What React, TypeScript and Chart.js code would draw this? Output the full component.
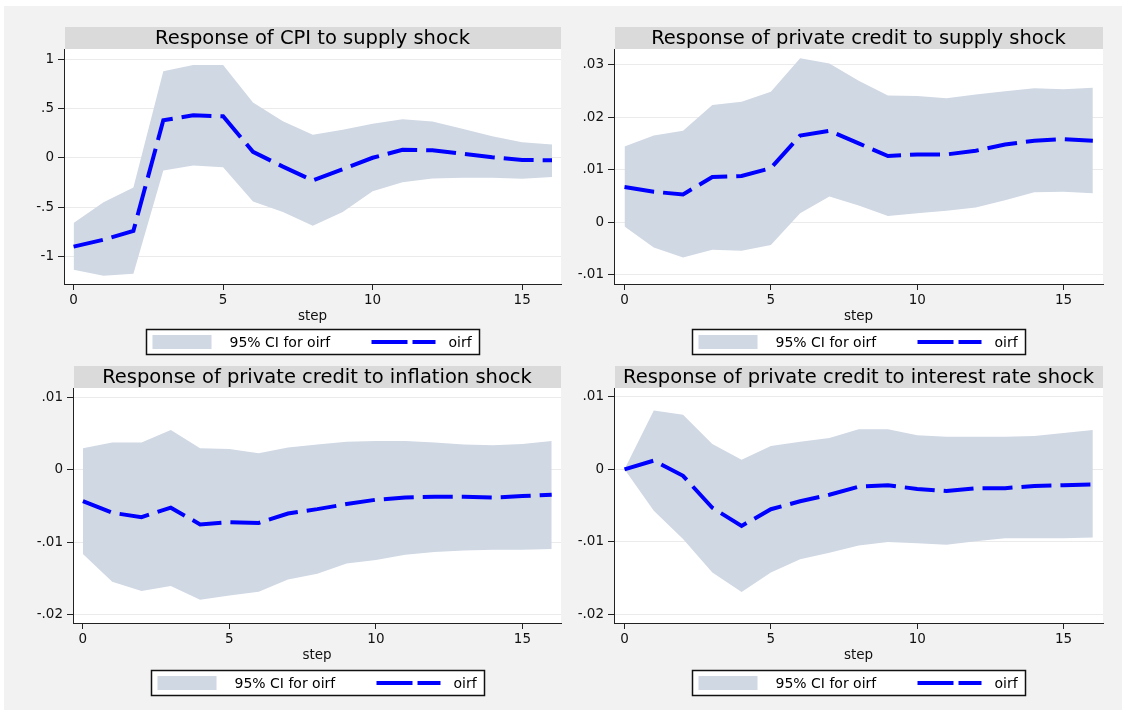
import React, { useEffect, useRef } from "react";
import { Chart, registerables } from "chart.js";

Chart.register(...registerables);

// ---------------- data ----------------
const steps = [0, 1, 2, 3, 4, 5, 6, 7, 8, 9, 10, 11, 12, 13, 14, 15, 16];

const cpiSupplyOirf = [-0.9, -0.83, -0.74, 0.38, 0.43, 0.42, 0.06, -0.09, -0.23, -0.115, 0.0, 0.08, 0.075, 0.04, 0.005, -0.022, -0.025];
const cpiSupplyUpper = [-0.66, -0.45, -0.3, 0.875, 0.94, 0.94, 0.56, 0.37, 0.233, 0.284, 0.344, 0.39, 0.368, 0.294, 0.219, 0.158, 0.135];
const cpiSupplyLower = [-1.134, -1.195, -1.175, -0.129, -0.078, -0.095, -0.443, -0.55, -0.688, -0.55, -0.338, -0.247, -0.21, -0.203, -0.203, -0.213, -0.196];

const creditSupplyOirf = [0.0067, 0.0058, 0.0053, 0.0086, 0.0088, 0.0103, 0.0165, 0.0174, 0.015, 0.0126, 0.0129, 0.0129, 0.0136, 0.0148, 0.0155, 0.0158, 0.0155];
const creditSupplyUpper = [0.0144, 0.0165, 0.0174, 0.0223, 0.0229, 0.0248, 0.0312, 0.0302, 0.0269, 0.0241, 0.024, 0.0236, 0.0243, 0.0249, 0.0255, 0.0253, 0.0256];
const creditSupplyLower = [-0.0008, -0.0048, -0.0067, -0.0052, -0.0054, -0.0043, 0.0017, 0.0049, 0.0032, 0.0012, 0.0017, 0.0022, 0.0028, 0.0042, 0.0057, 0.0058, 0.0055];

const creditInflOirf = [-0.0043, -0.0059, -0.0065, -0.0052, -0.0075, -0.0072, -0.0073, -0.006, -0.0054, -0.0047, -0.0041, -0.0038, -0.0037, -0.0037, -0.0038, -0.0036, -0.0034];
const creditInflUpper = [0.003, 0.0038, 0.0038, 0.0055, 0.003, 0.0029, 0.0023, 0.0031, 0.0035, 0.0039, 0.004, 0.004, 0.0038, 0.0035, 0.0034, 0.0036, 0.004];
const creditInflLower = [-0.0116, -0.0154, -0.0167, -0.016, -0.0179, -0.0173, -0.0168, -0.0151, -0.0143, -0.0129, -0.0124, -0.0117, -0.0113, -0.0111, -0.011, -0.011, -0.0109];

const creditRateOirf = [0, 0.0012, -0.0009, -0.0053, -0.0078, -0.0055, -0.0044, -0.0035, -0.0024, -0.0022, -0.0027, -0.003, -0.0026, -0.0026, -0.0023, -0.0022, -0.0021];
const creditRateUpper = [0, 0.0081, 0.0075, 0.0035, 0.0013, 0.0032, 0.0038, 0.0043, 0.0055, 0.0055, 0.0047, 0.0045, 0.0045, 0.0045, 0.0046, 0.005, 0.0054];
const creditRateLower = [0, -0.0057, -0.0096, -0.0142, -0.0169, -0.0142, -0.0124, -0.0115, -0.0105, -0.01, -0.0102, -0.0104, -0.0099, -0.0095, -0.0095, -0.0095, -0.0094];

const cpiTickValues = [-1, -0.5, 0, 0.5, 1];
const cpiTickLabels = ["-1", "-.5", "0", ".5", "1"];
const supplyTickValues = [-0.01, 0, 0.01, 0.02, 0.03];
const supplyTickLabels = ["-.01", "0", ".01", ".02", ".03"];
const smallTickValues = [-0.02, -0.01, 0, 0.01];
const smallTickLabels = ["-.02", "-.01", "0", ".01"];
const xTickValues = [0, 5, 10, 15];
const xTickLabels = ["0", "5", "10", "15"];

const panelTitles = [
  "Response of CPI to supply shock",
  "Response of private credit to supply shock",
  "Response of private credit to inflation shock",
  "Response of private credit to interest rate shock",
];
const legendLabels = ["95% CI for oirf", "oirf"];
const xAxisTitle = "step";

// ---------------- layout & style ----------------
const W = 1122;
const H = 710;
const YAXIS_W = 50;
const XAXIS_H = 42;
const FONT = "DejaVu Sans";
const CI_COLOR = "#d0d8e4";
const LINE_COLOR = "#0000ff";
const AXIS_COLOR = "#222222";
const GRID_COLOR = "#ebebeb";
const BAND_COLOR = "#dadada";

const panels = [
  {
    title: panelTitles[0], oirf: cpiSupplyOirf, upper: cpiSupplyUpper, lower: cpiSupplyLower,
    yTicks: cpiTickValues, yLabels: cpiTickLabels,
    area: { left: 64, right: 561, top: 49, bottom: 284 },
    yMin: -1.2784, yMax: 1.1013, xMin: -0.321, xMax: 16.3, legendTop: 329,
  },
  {
    title: panelTitles[1], oirf: creditSupplyOirf, upper: creditSupplyUpper, lower: creditSupplyLower,
    yTicks: supplyTickValues, yLabels: supplyTickLabels,
    area: { left: 614, right: 1103, top: 49, bottom: 284 },
    yMin: -0.01173, yMax: 0.032947, xMin: -0.359, xMax: 16.347, legendTop: 329,
  },
  {
    title: panelTitles[2], oirf: creditInflOirf, upper: creditInflUpper, lower: creditInflLower,
    yTicks: smallTickValues, yLabels: smallTickLabels,
    area: { left: 73, right: 561, top: 388, bottom: 623 },
    yMin: -0.021104, yMax: 0.01131, xMin: -0.338, xMax: 16.317, legendTop: 670,
  },
  {
    title: panelTitles[3], oirf: creditRateOirf, upper: creditRateUpper, lower: creditRateLower,
    yTicks: smallTickValues, yLabels: smallTickLabels,
    area: { left: 614, right: 1103, top: 388, bottom: 623 },
    yMin: -0.021171, yMax: 0.011198, xMin: -0.359, xMax: 16.347, legendTop: 670,
  },
];

const decorPlugin = {
  id: "decor",
  beforeDraw(chart: any, _args: any, opts: any) {
    const { ctx, chartArea: a } = chart;
    ctx.save();
    ctx.fillStyle = "#ffffff";
    ctx.fillRect(a.left, a.top, a.right - a.left, a.bottom - a.top);
    ctx.fillStyle = BAND_COLOR;
    ctx.fillRect(a.left + 1, a.top - 22, a.right - a.left - 1, 22);
    ctx.fillStyle = "#000000";
    ctx.font = `19.5px "${FONT}"`;
    ctx.textAlign = "center";
    ctx.textBaseline = "alphabetic";
    ctx.fillText(opts.title, (a.left + a.right) / 2, a.top - 5);
    ctx.restore();
  },
  afterDraw(chart: any, _args: any, opts: any) {
    const { ctx, chartArea: a } = chart;
    const bw = 333;
    const bh = 25;
    const lx = Math.round((a.left + a.right) / 2 - bw / 2) + 0.5;
    const ty = opts.legendTop + 0.5;
    const mid = ty + bh / 2;
    ctx.save();
    ctx.fillStyle = "#ffffff";
    ctx.fillRect(lx, ty, bw, bh);
    ctx.lineWidth = 1.5;
    ctx.strokeStyle = "#111111";
    ctx.strokeRect(lx, ty, bw, bh);
    ctx.fillStyle = CI_COLOR;
    ctx.fillRect(lx + 6, mid - 7, 59, 14);
    ctx.fillStyle = "#000000";
    ctx.font = `14px "${FONT}"`;
    ctx.textAlign = "left";
    ctx.textBaseline = "alphabetic";
    ctx.fillText(opts.labels[0], lx + 83, mid + 5);
    ctx.fillText(opts.labels[1], lx + 302, mid + 5);
    ctx.beginPath();
    ctx.setLineDash([36, 5]);
    ctx.lineWidth = 4;
    ctx.strokeStyle = LINE_COLOR;
    ctx.moveTo(lx + 225, mid);
    ctx.lineTo(lx + 289, mid);
    ctx.stroke();
    ctx.restore();
  },
};

function buildConfig(p: any): any {
  const pts = (arr: number[]) => steps.map((s, i) => ({ x: s, y: arr[i] }));
  const tickFont = { family: FONT, size: 13.5 };
  return {
    type: "line",
    data: {
      datasets: [
        {
          label: legendLabels[1], data: pts(p.oirf), borderColor: LINE_COLOR, borderWidth: 4,
          borderDash: [30, 9], borderCapStyle: "butt", borderJoinStyle: "miter",
          pointRadius: 0, fill: false, tension: 0,
        },
        {
          label: "upper", data: pts(p.upper), borderColor: "rgba(0,0,0,0)", borderWidth: 0,
          pointRadius: 0, fill: "+1", backgroundColor: CI_COLOR, tension: 0,
        },
        {
          label: "lower", data: pts(p.lower), borderColor: "rgba(0,0,0,0)", borderWidth: 0,
          pointRadius: 0, fill: false, backgroundColor: CI_COLOR, tension: 0,
        },
      ],
    },
    options: {
      responsive: false,
      animation: false,
      events: [],
      layout: {
        padding: {
          left: p.area.left - YAXIS_W,
          right: W - p.area.right,
          top: p.area.top,
          bottom: H - p.area.bottom - XAXIS_H,
        },
      },
      scales: {
        x: {
          type: "linear",
          min: p.xMin,
          max: p.xMax,
          afterBuildTicks: (ax: any) => { ax.ticks = xTickValues.map((v) => ({ value: v })); },
          afterFit: (s: any) => { s.height = XAXIS_H; },
          ticks: {
            callback: (_v: any, i: number) => xTickLabels[i],
            font: tickFont, color: "#111111", padding: 2, maxRotation: 0, autoSkip: false,
          },
          grid: { display: true, drawOnChartArea: false, drawTicks: true, tickLength: 6, tickColor: AXIS_COLOR, tickWidth: 1 },
          border: { display: true, color: AXIS_COLOR, width: 1 },
          title: { display: true, text: xAxisTitle, font: tickFont, color: "#111111", padding: { top: 0, bottom: 1 } },
        },
        y: {
          type: "linear",
          min: p.yMin,
          max: p.yMax,
          afterBuildTicks: (ax: any) => { ax.ticks = p.yTicks.map((v: number) => ({ value: v })); },
          afterFit: (s: any) => { s.width = YAXIS_W; },
          ticks: {
            callback: (_v: any, i: number) => p.yLabels[i],
            font: tickFont, color: "#111111", padding: 4, autoSkip: false,
          },
          grid: { color: GRID_COLOR, lineWidth: 1, drawTicks: true, tickLength: 6, tickColor: AXIS_COLOR, tickWidth: 1 },
          border: { display: true, color: AXIS_COLOR, width: 1 },
        },
      },
      plugins: {
        legend: { display: false },
        tooltip: { enabled: false },
        title: { display: false },
        decor: { title: p.title, labels: legendLabels, legendTop: p.legendTop },
      },
    },
    plugins: [decorPlugin],
  };
}

export default function App() {
  const r0 = useRef<HTMLCanvasElement | null>(null);
  const r1 = useRef<HTMLCanvasElement | null>(null);
  const r2 = useRef<HTMLCanvasElement | null>(null);
  const r3 = useRef<HTMLCanvasElement | null>(null);
  const refs = [r0, r1, r2, r3];

  useEffect(() => {
    const charts = panels.map((p, i) => new Chart(refs[i].current as HTMLCanvasElement, buildConfig(p)));
    return () => charts.forEach((c) => c.destroy());
  }, []);

  return (
    <div style={{ position: "absolute", left: 0, top: 0, width: W, height: H, background: "#ffffff", overflow: "hidden" }}>
      <div style={{ position: "absolute", left: 4, top: 6, right: 0, bottom: 0, background: "#f2f2f2" }} />
      {refs.map((r, i) => (
        <canvas key={i} ref={r} width={W} height={H} style={{ position: "absolute", left: 0, top: 0 }} />
      ))}
    </div>
  );
}
